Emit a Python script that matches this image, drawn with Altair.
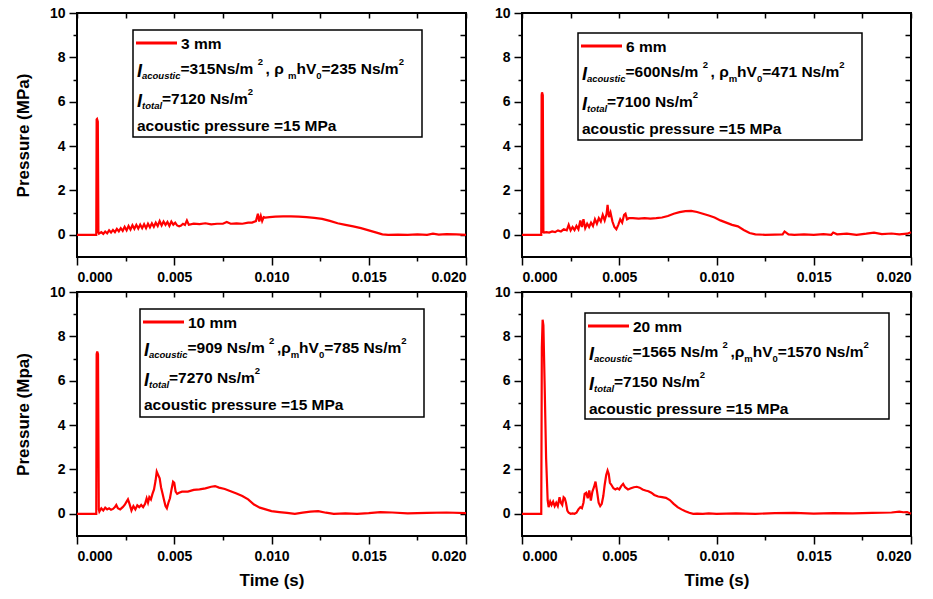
import altair as alt
import pandas as pd

FONT = "Liberation Sans"

# ---------------- data ----------------
time_3mm = [0, 0.00099, 0.00101, 0.00103, 0.00107, 0.00110, 0.00113,
            0.00125, 0.00135, 0.00145, 0.00155, 0.00165, 0.00175, 0.00185, 0.00195, 0.00205, 0.00215,
            0.00225, 0.00235, 0.00245, 0.00255, 0.00265, 0.00275, 0.00285, 0.00295, 0.00305, 0.00315,
            0.00325, 0.00335, 0.00345, 0.00355, 0.00365, 0.00375, 0.00385, 0.00395, 0.00405, 0.00415,
            0.00425, 0.00435, 0.00445, 0.00455, 0.00465, 0.00475, 0.00485, 0.00495, 0.00505, 0.00515,
            0.00525, 0.00535, 0.00545, 0.00555, 0.00565, 0.00575,
            0.0060, 0.0063, 0.0066, 0.0069, 0.0072, 0.0075, 0.0077, 0.0079, 0.0082, 0.0085, 0.0088, 0.0090, 0.0092,
            0.00930, 0.00937, 0.00945, 0.00952, 0.00960, 0.00968,
            0.0099, 0.0102, 0.0106, 0.0110, 0.0114, 0.0118, 0.0122, 0.0126, 0.0130, 0.0134, 0.0138, 0.0142,
            0.0146, 0.0150, 0.0154, 0.0157,
            0.0160, 0.0165, 0.0170, 0.0175, 0.0180, 0.0183, 0.0186, 0.0190, 0.0195, 0.0200]
pres_3mm = [0, 0, 5.2, 5.22, 5.1, 0.1, 0.05,
            0.12, 0.04, 0.15, 0.07, 0.2, 0.1, 0.22, 0.12, 0.27, 0.16,
            0.3, 0.18, 0.36, 0.2, 0.4, 0.24, 0.43, 0.27, 0.45, 0.28,
            0.46, 0.3, 0.48, 0.3, 0.5, 0.34, 0.52, 0.36, 0.55, 0.4,
            0.62, 0.42, 0.6, 0.45, 0.58, 0.4, 0.6, 0.46, 0.55, 0.42,
            0.38, 0.42, 0.5, 0.45, 0.65, 0.45,
            0.5, 0.48, 0.52, 0.47, 0.5, 0.5, 0.58, 0.5, 0.52, 0.5, 0.55, 0.55, 0.62,
            0.95, 0.6, 0.85, 0.62, 0.8, 0.78,
            0.8, 0.82, 0.83, 0.83, 0.82, 0.8, 0.76, 0.72, 0.63, 0.52, 0.45, 0.38,
            0.3, 0.2, 0.1, 0.02,
            0.0, 0.01, 0.0, 0.02, 0.0, 0.05, 0.01, 0.03, 0.02, 0.0]

time_6mm = [0, 0.00099, 0.00101, 0.00103, 0.00107, 0.00110, 0.00113,
            0.00125, 0.00140, 0.00155, 0.00170, 0.00185, 0.00200, 0.00215, 0.00230, 0.00240, 0.00250,
            0.00260, 0.00270, 0.00280, 0.00290, 0.00300, 0.00308, 0.00316, 0.00325, 0.00335, 0.00345,
            0.00355, 0.00365, 0.00375, 0.00385, 0.00395, 0.00405, 0.00415, 0.00425, 0.00435, 0.00440,
            0.00447, 0.00455, 0.00465, 0.00475, 0.00485, 0.00495, 0.00505, 0.00515, 0.00525, 0.00532,
            0.00540, 0.00550, 0.00570, 0.0060, 0.0063, 0.0066, 0.0069, 0.0072,
            0.0075, 0.0078, 0.0081, 0.0084, 0.0087, 0.0090, 0.0093, 0.0096, 0.0099, 0.0102, 0.0105, 0.0108,
            0.0111, 0.0114, 0.0117, 0.0120, 0.0125, 0.0130, 0.0134, 0.0135, 0.0137, 0.0140,
            0.0145, 0.0150, 0.0155, 0.0159, 0.0160, 0.0162, 0.0167, 0.0172, 0.0177, 0.0181, 0.0185, 0.0190,
            0.0194, 0.0198, 0.0200]
pres_6mm = [0, 0, 6.3, 6.42, 6.3, 0.12, 0.1,
            0.12, 0.1, 0.15, 0.12, 0.2, 0.15, 0.25, 0.2, 0.45, 0.2,
            0.35, 0.22, 0.4, 0.25, 0.65, 0.35, 0.7, 0.3, 0.5, 0.35,
            0.55, 0.4, 0.7, 0.5, 0.75, 0.6, 0.9, 0.65, 0.95, 1.35,
            0.8, 1.0, 0.6, 0.35, 0.25, 0.45, 0.7, 0.55, 0.9, 0.95,
            0.7, 0.75, 0.75, 0.73, 0.75, 0.73, 0.75, 0.78,
            0.85, 0.95, 1.02, 1.07, 1.08, 1.03, 0.95, 0.87, 0.78, 0.65, 0.55, 0.45,
            0.38, 0.22, 0.08, 0.02, 0.0, 0.01, 0.02, 0.15, 0.02, 0.0,
            0.02, 0.0, 0.03, 0.0, 0.1, 0.02, 0.05, 0.0, 0.05, 0.1, 0.03, 0.06,
            0.02, 0.05, 0.12]

time_10mm = [0, 0.00099, 0.00101, 0.00104, 0.00108, 0.00112, 0.00115,
             0.00125, 0.00135, 0.00145, 0.00155, 0.00165, 0.00175, 0.00185, 0.00195, 0.00202, 0.00210, 0.00222, 0.00235,
             0.00245, 0.00255, 0.00262, 0.00270, 0.00280, 0.00290, 0.00300, 0.00310, 0.00320, 0.00330, 0.00340, 0.00350,
             0.00358, 0.00365, 0.00372, 0.00380, 0.00388, 0.00396, 0.00404, 0.00410, 0.00415, 0.00420, 0.00425, 0.00432,
             0.00440, 0.00448, 0.00455, 0.00462, 0.00470, 0.00478, 0.00486, 0.00494, 0.00500, 0.00507, 0.00515, 0.00525,
             0.0054, 0.0057, 0.0060, 0.0063, 0.0066, 0.0069, 0.0071, 0.0073, 0.0076, 0.0079, 0.0082, 0.0085,
             0.0088, 0.0091, 0.0094, 0.0097, 0.0100, 0.0104, 0.0108, 0.0112, 0.0116, 0.0120, 0.0124, 0.0128,
             0.0132, 0.0138, 0.0144, 0.0150, 0.0156, 0.0162, 0.0170, 0.0180, 0.0190, 0.0200]
pres_10mm = [0, 0, 7.2, 7.32, 7.2, 0.2, 0.1,
             0.25, 0.15, 0.28, 0.2, 0.25, 0.18, 0.22, 0.3, 0.4, 0.25, 0.2, 0.3,
             0.4, 0.55, 0.65, 0.45, 0.15, 0.35, 0.2, 0.38, 0.3, 0.4, 0.3, 0.45,
             0.7, 0.5, 0.75, 0.65, 0.9, 1.1, 1.5, 1.9, 1.8, 1.7, 1.6, 1.2,
             0.9, 0.6, 0.35, 0.25, 0.5, 0.7, 1.1, 1.45, 1.4, 1.0, 0.9, 0.95,
             1.0, 1.0, 1.08, 1.1, 1.15, 1.22, 1.25, 1.18, 1.12, 1.02, 0.92, 0.8,
             0.65, 0.42, 0.28, 0.2, 0.12, 0.08, 0.04, 0.0, 0.05, 0.1, 0.12, 0.05,
             0.0, 0.02, 0.0, 0.03, 0.08, 0.06, 0.02, 0.04, 0.06, 0.03]

time_20mm = [0, 0.00099, 0.00102, 0.00106, 0.00110, 0.00116, 0.00124, 0.00132,
             0.00137, 0.00145, 0.00152, 0.00160, 0.00168, 0.00176, 0.00184, 0.00193, 0.00200, 0.00207, 0.00214, 0.00220,
             0.00226, 0.00233, 0.00240, 0.00250, 0.00260, 0.00270, 0.00280, 0.00290, 0.00300, 0.00308, 0.00316, 0.00322,
             0.00330, 0.00338, 0.00346, 0.00354, 0.00362, 0.00370, 0.00378, 0.00386, 0.00394, 0.00402, 0.00410, 0.00418,
             0.00425, 0.00433, 0.00440, 0.00446, 0.00452, 0.00460, 0.00470, 0.00480, 0.00490, 0.00500, 0.00510, 0.00520,
             0.00530, 0.00545, 0.00560, 0.00575, 0.00590, 0.00605, 0.00620, 0.00635, 0.00650, 0.00665, 0.00680, 0.00700,
             0.00720, 0.00740, 0.00760, 0.00780, 0.00800, 0.00820, 0.00840, 0.00860, 0.00880, 0.00900, 0.00930, 0.00960,
             0.0100, 0.0110, 0.0120, 0.0130, 0.0140, 0.0150, 0.0160, 0.0170, 0.0180, 0.0190,
             0.0194, 0.0196, 0.0198, 0.0200]
pres_20mm = [0, 0, 7.5, 8.75, 8.5, 6.0, 2.5, 0.6,
             0.3, 0.55, 0.4, 0.55, 0.35, 0.5, 0.35, 0.75, 0.5, 0.4, 0.75, 0.7,
             0.5, 0.15, 0.05, 0.0, 0.02, 0.0, 0.05, 0.2, 0.3, 0.25, 0.5, 0.9,
             0.95, 0.7, 1.05, 0.6, 1.0, 1.2, 1.45, 1.0, 0.5, 0.35, 0.45, 0.8,
             1.3, 1.75, 1.95, 1.8, 1.4, 1.3, 1.15, 1.1, 1.15, 1.1, 1.25, 1.35,
             1.2, 1.1, 1.15, 1.2, 1.22, 1.18, 1.1, 1.05, 1.02, 0.95, 0.85, 0.78,
             0.75, 0.72, 0.62, 0.45, 0.3, 0.2, 0.12, 0.05, 0.0, 0.01, 0.0, 0.02,
             0.0, 0.02, 0.0, 0.03, 0.04, 0.01, 0.03, 0.02, 0.04, 0.06,
             0.1, 0.07, 0.08, 0.0]

x_major = [0, 0.005, 0.010, 0.015, 0.020]
x_minor = [0.0025, 0.0075, 0.0125, 0.0175]
x_mirror = [0, 0.0025, 0.005, 0.0075, 0.010, 0.0125, 0.015, 0.0175, 0.020]
y_major = [0, 2, 4, 6, 8, 10]
y_minor = [1, 3, 5, 7, 9]
y_mirror = [0, 1, 2, 3, 4, 5, 6, 7, 8, 9]

labels = ["3 mm", "6 mm", "10 mm", "20 mm"]
i_acoustic = [" =315Ns/m", " =600Ns/m", " =909 Ns/m", " =1565 Ns/m"]
rho_sep = [",  \u03c1", ", \u03c1", ",\u03c1", ",\u03c1"]
rho_hv = ["=235 Ns/m", "=471 Ns/m", "=785 Ns/m", "=1570 Ns/m"]
i_total = ["=7120 Ns/m", "=7100 Ns/m", "=7270 Ns/m", "=7150 Ns/m"]
pressure_note = "acoustic pressure =15 MPa"

# ---------------- text layout helpers ----------------
WID = {' ': 278, ',': 278, '.': 278, '/': 278, '=': 584, '(': 333, ')': 333,
       'I': 278, 'M': 833, 'N': 722, 'P': 667, 'V': 667,
       'a': 556, 'c': 556, 'e': 556, 'h': 611, 'i': 278, 'l': 278, 'm': 889,
       'o': 611, 'p': 611, 'r': 389, 's': 556, 't': 333, 'u': 611, '\u03c1': 611}
KIND = {  # size, style, baseline shift
    "main": (15.5, "normal", 0),
    "I": (18, "italic", 3),
    "subi": (9.5, "italic", 5),
    "sub": (9.5, "normal", 5),
    "sup": (9.5, "normal", -9),
}


def tw(s, size):
    return sum(WID.get(c, 556) for c in s) * size / 1000.0


one = pd.DataFrame({"k": [0]})


def txt(s, x, y, kind):
    size, style, dy = KIND[kind]
    return alt.Chart(one).mark_text(
        text=s, align="left", baseline="alphabetic", font=FONT, fontSize=size,
        fontStyle=style, fontWeight="bold", color="black"
    ).encode(x=alt.value(x), y=alt.value(y + dy))


def line_layers(segs, x0, y):
    out = []
    x = x0
    for s, kind in segs:
        out.append(txt(s, x, y, kind))
        x += tw(s, KIND[kind][0])
    return out


def legend(i, box):
    L, T, W, H = box
    layers = [
        alt.Chart(one).mark_rect(fill="white", stroke="black", strokeWidth=1.5).encode(
            x=alt.value(L), x2=alt.value(L + W), y=alt.value(T), y2=alt.value(T + H)),
        alt.Chart(one).mark_rule(color="#ff0000", strokeWidth=3).encode(
            x=alt.value(L + 3), x2=alt.value(L + 44), y=alt.value(T + 13)),
        txt(labels[i], L + 48, T + 19, "main"),
    ]
    layers += line_layers([("I", "I"), ("acoustic", "subi"), (i_acoustic[i], "main"), (" 2", "sup"),
                           (rho_sep[i], "main"), ("m", "sub"), ("hV", "main"), ("0", "sub"),
                           (rho_hv[i], "main"), (" 2", "sup")], L + 4, T + 44)
    layers += line_layers([("I", "I"), ("total", "subi"), (i_total[i], "main"), (" 2", "sup")],
                          L + 4, T + 74)
    layers.append(txt(pressure_note, L + 4, T + 101, "main"))
    return layers


def panel(t, p, i, box, ytitle, xtitle):
    df = pd.DataFrame({"t": t, "p": p})
    xs = alt.Scale(domain=[0, 0.02], nice=False, zero=False)
    ys = alt.Scale(domain=[-1, 10], nice=False, zero=False)
    main = alt.Chart(df).mark_line(color="#ff0000", strokeWidth=2.2).encode(
        x=alt.X("t:Q", scale=xs, axis=alt.Axis(
            values=x_major, format=".3f", tickSize=8, labelPadding=5, domain=False, grid=False,
            title=xtitle, titlePadding=9, orient="bottom")),
        y=alt.Y("p:Q", scale=ys, axis=alt.Axis(
            values=y_major, format="d", tickSize=8, labelPadding=4, domain=False, grid=False,
            title=ytitle, titlePadding=17, orient="left")),
    )
    minor = alt.Chart(df).mark_line(opacity=0).encode(
        x=alt.X("t:Q", scale=xs, axis=alt.Axis(
            values=x_minor, tickSize=4, labels=False, domain=False, grid=False, title=None, orient="bottom")),
        y=alt.Y("p:Q", scale=ys, axis=alt.Axis(
            values=y_minor, tickSize=4, labels=False, domain=False, grid=False, title=None, orient="left")),
    )
    mirror = alt.Chart(df).mark_line(opacity=0).encode(
        x=alt.X("t:Q", scale=xs, axis=alt.Axis(
            values=x_mirror, tickSize=5, offset=-5, labels=False, domain=False, grid=False,
            title=None, orient="top")),
        y=alt.Y("p:Q", scale=ys, axis=alt.Axis(
            values=y_mirror, tickSize=6, offset=-6, labels=False, domain=False, grid=False,
            title=None, orient="right")),
    )
    return alt.layer(main, minor, mirror, *legend(i, box)).resolve_axis(
        x="independent", y="independent").properties(width=389, height=244)


boxes = [(56, 17, 289, 107), (56, 20, 284, 107), (63, 17, 284, 108), (63, 21, 304, 106)]

p1 = panel(time_3mm, pres_3mm, 0, boxes[0], "Pressure (MPa)", None)
p2 = panel(time_6mm, pres_6mm, 1, boxes[1], None, None)
p3 = panel(time_10mm, pres_10mm, 2, boxes[2], "Pressure (Mpa)", "Time (s)")
p4 = panel(time_20mm, pres_20mm, 3, boxes[3], None, "Time (s)")

chart = alt.concat(p1, p2, p3, p4, columns=2, spacing={"row": 35, "column": 56}, bounds="flush").properties(
    padding={"left": 13, "top": 5, "right": 5, "bottom": 8}, background="white"
).configure_view(stroke="black", strokeWidth=2).configure_axis(
    labelFont=FONT, labelFontSize=14, labelFontWeight="bold", labelColor="black",
    tickColor="black", tickWidth=1.5,
    titleFont=FONT, titleFontSize=17, titleFontWeight="bold", titleColor="black",
)

chart.save("out.html", embed_options={"renderer": "svg", "actions": False})
